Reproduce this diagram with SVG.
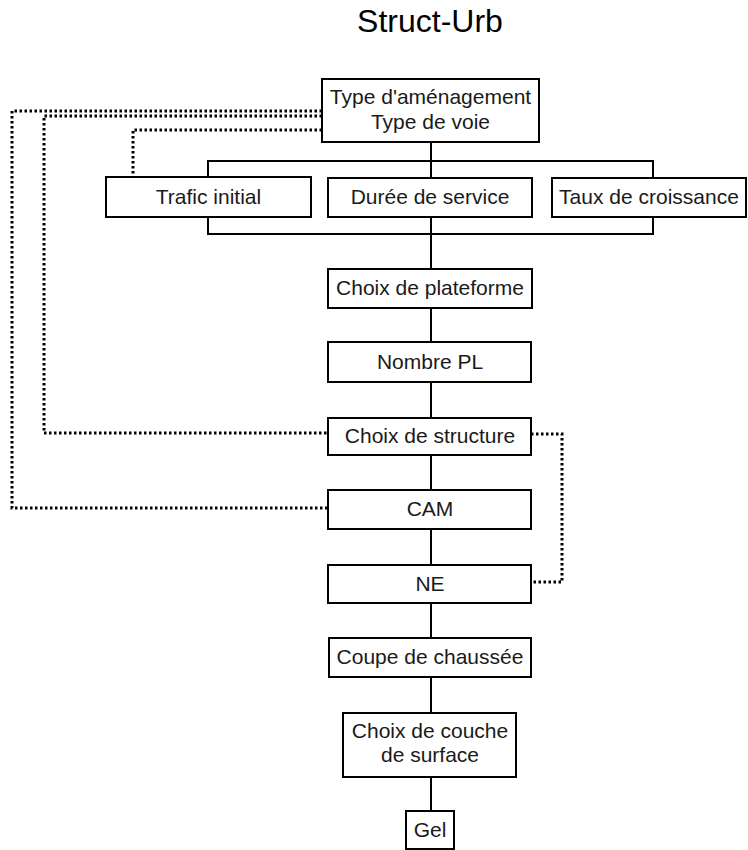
<svg xmlns="http://www.w3.org/2000/svg" width="748" height="850" viewBox="0 0 748 850">
<style>
.box{fill:#fff;stroke:#000;stroke-width:2}
.t{font-family:"Liberation Sans",Arial,sans-serif;font-size:21px;fill:#1a1a1a;text-anchor:middle}
.title{font-family:"Liberation Sans",Arial,sans-serif;font-size:32px;fill:#000;text-anchor:middle}
.solid{fill:none;stroke:#000;stroke-width:2}
.dot{fill:none;stroke:#000;stroke-width:3;stroke-dasharray:2.5 2.5}
</style>
<rect width="748" height="850" fill="#fff"/>
<text class="title" x="430" y="32">Struct-Urb</text>
<g id="connectors">
<path class="solid" d="M431 142V178M431 217V269M431 308V342M431 382V418M431 455V490M431 529V565M431 603V638M431 677V713M431 777V811"/>
<path class="solid" d="M208 177V161H653V177M208 217V234H653V217"/>
<path class="dot" d="M322 111H12V508H328"/>
<path class="dot" d="M322 116H44V433H328"/>
<path class="dot" d="M322 130H133V177"/>
<path class="dot" d="M531 434H562V582H531"/>
</g>
<g id="n-type"><rect class="box" x="322" y="79" width="217" height="63"/><text class="t" x="430.5" y="104">Type d'aménagement</text><text class="t" x="430.5" y="129">Type de voie</text></g>
<g id="n-trafic"><rect class="box" x="106" y="177" width="205" height="40"/><text class="t" x="208.5" y="204">Trafic initial</text></g>
<g id="n-duree"><rect class="box" x="328" y="178" width="204" height="39"/><text class="t" x="430" y="204">Durée de service</text></g>
<g id="n-taux"><rect class="box" x="552" y="178" width="194" height="39"/><text class="t" x="649" y="204">Taux de croissance</text></g>
<g id="n-plateforme"><rect class="box" x="328" y="269" width="204" height="39"/><text class="t" x="430" y="295">Choix de plateforme</text></g>
<g id="n-nombre"><rect class="box" x="328" y="342" width="203" height="40"/><text class="t" x="430" y="369">Nombre PL</text></g>
<g id="n-structure"><rect class="box" x="328" y="418" width="203" height="37"/><text class="t" x="430" y="443">Choix de structure</text></g>
<g id="n-cam"><rect class="box" x="328" y="490" width="203" height="39"/><text class="t" x="430" y="516">CAM</text></g>
<g id="n-ne"><rect class="box" x="328" y="565" width="203" height="38"/><text class="t" x="430" y="591">NE</text></g>
<g id="n-coupe"><rect class="box" x="329" y="638" width="202" height="39"/><text class="t" x="430" y="664">Coupe de chaussée</text></g>
<g id="n-couche"><rect class="box" x="343" y="713" width="173" height="64"/><text class="t" x="430" y="738">Choix de couche</text><text class="t" x="430" y="762">de surface</text></g>
<g id="n-gel"><rect class="box" x="406" y="811" width="48" height="38"/><text class="t" x="430" y="837">Gel</text></g>
</svg>
